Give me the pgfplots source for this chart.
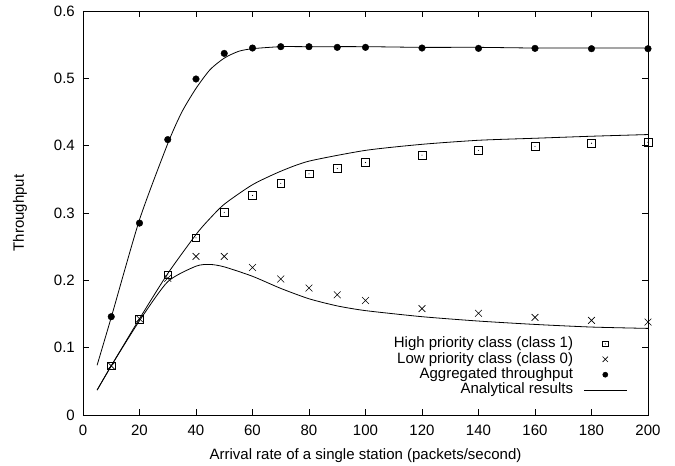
\documentclass[border=0pt]{standalone}
\usepackage{fontspec}
\setmainfont{Liberation Sans}
\usepackage{pgfplots}
\pgfplotsset{compat=1.18}
\pgfdeclareplotmark{boxdot}{%
  \pgfpathrectangle{\pgfqpoint{-\pgfplotmarksize}{-\pgfplotmarksize}}{\pgfqpoint{2\pgfplotmarksize}{2\pgfplotmarksize}}%
  \pgfusepathqstroke
  \pgfpathcircle{\pgfpointorigin}{0.55pt}%
  \pgfusepathqfill}
\begin{document}
\begin{tikzpicture}[font=\fontsize{15}{17}\selectfont]
\begin{axis}[
  scale only axis, width=565pt, height=404pt,
  xmin=0, xmax=200, ymin=0, ymax=0.6,
  xtick={0,20,40,60,80,100,120,140,160,180,200},
  ytick={0,0.1,0.2,0.3,0.4,0.5,0.6},
  tick align=inside, major tick length=6pt,
  axis line style={line width=0.9pt},
  every tick/.style={black, line width=0.6pt},
  /pgf/number format/assume math mode=true,
  yticklabel style={/pgf/number format/fixed, /pgf/number format/precision=1, xshift=-4.7pt},
  xticklabel style={anchor=base, yshift=-21pt},
  xlabel={Arrival rate of a single station (packets/second)},
  ylabel={Throughput},
  xlabel style={at={(axis description cs:0.5,0)}, anchor=base, yshift=-44.3pt},
  ylabel style={at={(axis description cs:-0.1115,0.5)}, anchor=center},
  legend style={draw=none, fill=none, at={(axis cs:193.7,0.023)}, anchor=south east,
    nodes={inner sep=0pt, text height=11pt, text depth=3.4pt}, row sep=1pt,
    legend cell align=right,
    /tikz/every odd column/.append style={column sep=10.5pt}},
  legend plot pos=right,
  legend image code/.code={\draw[mark repeat=2,mark phase=2,#1] plot coordinates {(0pt,0pt) (21.3pt,0pt) (42.6pt,0pt)};},
]
\addplot[only marks, mark=boxdot, mark size=3.8pt, black, line width=0.6pt, legend image post style={mark size=2.7pt}] coordinates {
(10,0.073) (20,0.142) (30,0.208) (40,0.263) (50,0.301) (60,0.326) (70,0.344) (80,0.358) (90,0.366) (100,0.375) (120,0.386) (140,0.393) (160,0.399) (180,0.4036) (200,0.405)};
\addlegendentry{High priority class (class 1)}
\addplot[only marks, mark=x, mark size=4.8pt, black, line width=0.6pt, legend image post style={mark size=3.8pt}] coordinates {
(10,0.073) (20,0.143) (30,0.203) (40,0.2355) (50,0.2355) (60,0.219) (70,0.202) (80,0.1885) (90,0.1785) (100,0.170) (120,0.158) (140,0.151) (160,0.145) (180,0.1405) (200,0.138)};
\addlegendentry{Low priority class (class 0)}
\addplot[only marks, mark=*, mark size=3.3pt, black, legend image post style={mark size=2.6pt}] coordinates {
(10,0.146) (20,0.285) (30,0.409) (40,0.499) (50,0.537) (60,0.545) (70,0.547) (80,0.547) (90,0.546) (100,0.546) (120,0.545) (140,0.5445) (160,0.5445) (180,0.544) (200,0.544)};
\addlegendentry{Aggregated throughput}
\addplot[black, line width=0.8pt, smooth, tension=0.4, mark=none] coordinates {
(5,0.074) (10,0.145) (20,0.29) (30,0.403) (35,0.45) (40,0.485) (45,0.513) (50,0.530) (55,0.540) (60,0.544) (70,0.547) (80,0.547) (100,0.547) (120,0.546) (140,0.546) (160,0.545) (180,0.545) (200,0.545)};
\addlegendentry{Analytical results}
\addplot[black, line width=0.8pt, smooth, tension=0.4, mark=none, forget plot] coordinates {
(5,0.037) (10,0.073) (20,0.143) (30,0.21) (40,0.268) (44.3,0.289) (50,0.313) (60,0.342) (70,0.362) (80,0.377) (100,0.393) (120,0.402) (140,0.408) (160,0.411) (180,0.414) (200,0.4165)};
\addplot[black, line width=0.8pt, smooth, tension=0.4, mark=none, forget plot] coordinates {
(5,0.037) (10,0.073) (20,0.14) (30,0.198) (40,0.221) (45,0.2236) (50,0.220) (60,0.206) (70,0.188) (80,0.1726) (90,0.162) (100,0.155) (120,0.146) (140,0.1395) (160,0.1345) (180,0.1306) (200,0.1286)};
\end{axis}
\path ([shift={(-83pt,-51pt)}]current axis.south west) rectangle ([shift={(27pt,11pt)}]current axis.north east);
\end{tikzpicture}
\end{document}
